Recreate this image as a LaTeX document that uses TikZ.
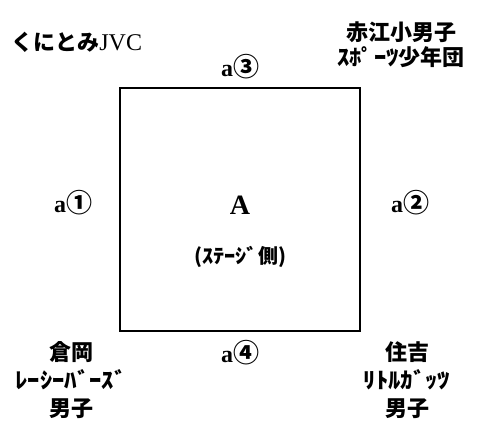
\documentclass[tikz,border=0pt]{standalone}
\usepackage{fontspec}
\setmainfont{Liberation Serif}
\newfontfamily\jp{Noto Sans CJK JP}
\newfontfamily\kana{Noto Sans CJK JP}[FakeStretch=1.12]
\newcommand\circnum[1]{{\jp\fontsize{26}{28}\selectfont #1}}
\begin{document}
\begin{tikzpicture}[x=1pt, y=-1pt, thick,
    main/.style = {draw=none, inner sep=0pt, align=center, font=\fontsize{24}{28}\selectfont\bfseries},
    team/.style = {main, font=\fontsize{22}{28}\selectfont\jp\bfseries},
    court/.style = {draw, line width=2pt, minimum width=240pt, minimum height=243pt, inner sep=0pt}]
    \useasboundingbox (0,0) rectangle (478,421);
    \node[court] (0) at (240,209.5) {};

    \node[main] (1) at (73,203)             {a\circnum{①}};
    \node[main] (2) at (410,203)            {a\circnum{②}};
    \node[main] (3) at (240,67)             {a\circnum{③}};
    \node[main] (4) at (240,353)            {a\circnum{④}};

    \node[main, font=\fontsize{28}{32}\selectfont\bfseries] (A) at (240,205) {A};
    \node[team, font=\fontsize{20}{24}\selectfont\jp\bfseries] (stage) at (240,257) {({\kana ｽﾃｰｼﾞ}側)};

    \node[main, anchor=west] (t1) at (11,42)  {{\jp\fontsize{22}{28}\selectfont くにとみ}\mdseries JVC};
    \node[team, font=\fontsize{22}{25}\selectfont\jp\bfseries] (t2) at (401,45) {赤江小男子\\{\kana ｽﾎﾟｰﾂ}少年団};
    \node[team] (t3) at (71,380) {倉岡\\{\kana ﾚｰｼｰﾊﾞｰｽﾞ}\\男子};
    \node[team] (t4) at (407,380) {住吉\\{\kana ﾘﾄﾙｶﾞｯﾂ}\\男子};
\end{tikzpicture}
\end{document}
